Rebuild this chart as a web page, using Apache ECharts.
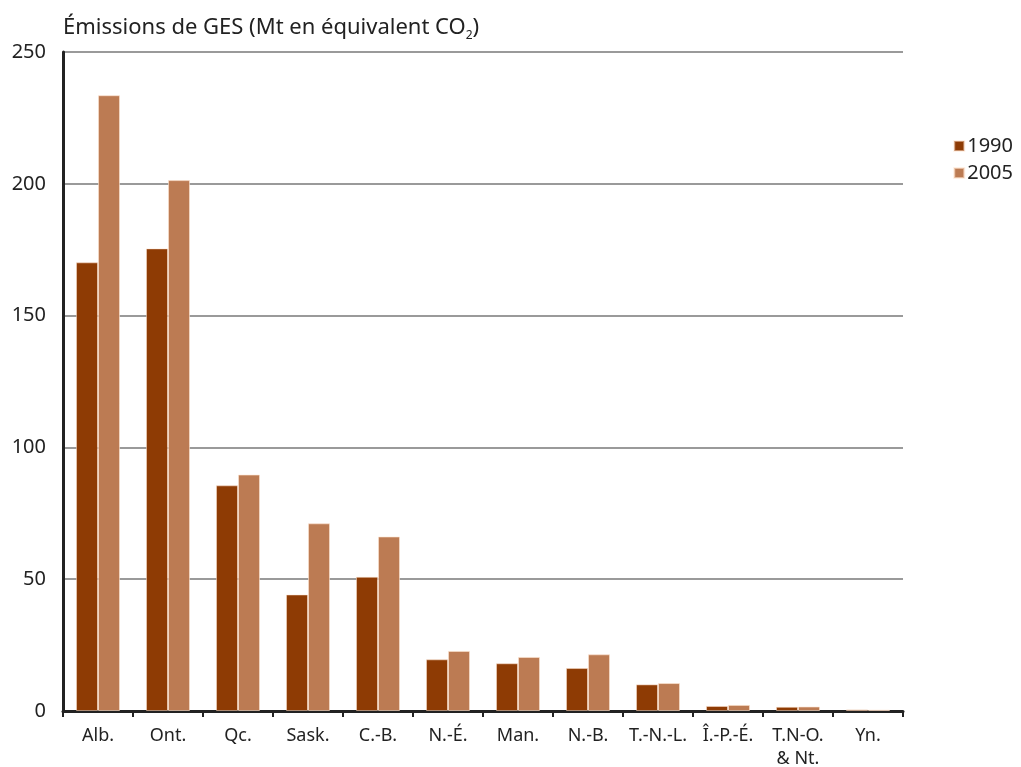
<!DOCTYPE html>
<html><head><meta charset="utf-8">
<script src="https://cdn.jsdelivr.net/npm/echarts@6/dist/echarts.min.js"></script>
<style>html,body{margin:0;padding:0;background:#fff}#c{width:1021px;height:767px}</style>
</head><body><div id="c"></div>
<script>
const categories = ['Alb.', 'Ont.', 'Qc.', 'Sask.', 'C.-B.', 'N.-É.', 'Man.', 'N.-B.', 'T.-N.-L.', 'Î.-P.-É.', 'T.N-O.\n& Nt.', 'Yn.'];
const values1990 = [170.2, 175.5, 85.6, 44.2, 50.9, 19.6, 18.1, 16.3, 10.1, 1.9, 1.6, 0.6];
const values2005 = [233.6, 201.4, 89.7, 71.2, 66.2, 22.8, 20.5, 21.5, 10.6, 2.3, 1.7, 0.5];
const seriesNames = ['1990', '2005'];
const yTicks = [0, 50, 100, 150, 200, 250];

const FONT = 'Noto Sans';
const chart = echarts.init(document.getElementById('c'));
chart.setOption({
  backgroundColor: '#fff',
  title: {
    text: '{a|Émissions de GES (Mt en équivalent CO}{s|2}{a|)}',
    left: 58, top: 8,
    textStyle: {
      fontWeight: 'normal',
      rich: {
        a: {fontFamily: FONT, fontSize: 22, fontWeight: 'normal', color: '#222'},
        s: {fontFamily: FONT, fontSize: 12, fontWeight: 'normal', color: '#222', padding: [17, 0, 0, 0]}
      }
    }
  },
  legend: {
    orient: 'vertical', right: 3, top: 131,
    itemWidth: 10, itemHeight: 10, itemGap: 7,
    icon: 'rect',
    textStyle: {fontFamily: FONT, fontSize: 20, color: '#222', padding: [0, 0, 0, -2]},
    data: seriesNames
  },
  grid: {left: 63, right: 118, top: 52, bottom: 56, outerBoundsMode: 'none', containLabel: false},
  xAxis: {
    type: 'category', data: categories,
    axisLine: {lineStyle: {color: '#222', width: 3}},
    axisTick: {show: true, length: 6, lineStyle: {color: '#222', width: 2}},
    axisLabel: {fontFamily: FONT, fontSize: 18, color: '#222', margin: 13, lineHeight: 23, interval: 0}
  },
  yAxis: {
    type: 'value', min: 0, max: 250, interval: 50,
    axisLine: {show: true, lineStyle: {color: '#222', width: 3}},
    axisTick: {show: false},
    axisLabel: {fontFamily: FONT, fontSize: 20, color: '#222', margin: 17,
      formatter: v => yTicks.includes(v) ? String(v) : ''},
    splitLine: {lineStyle: {color: '#9a9a9a', width: 2}}
  },
  series: [
    {name: seriesNames[0], type: 'bar', data: values1990, barWidth: 22, barGap: '0%',
     itemStyle: {color: '#8E3B04', borderColor: 'rgba(255,230,210,0.5)', borderWidth: 1}},
    {name: seriesNames[1], type: 'bar', data: values2005, barWidth: 22, barGap: '0%',
     itemStyle: {color: '#BC7B53', borderColor: 'rgba(255,230,210,0.6)', borderWidth: 1}}
  ],
  animation: false
});
</script></body></html>
